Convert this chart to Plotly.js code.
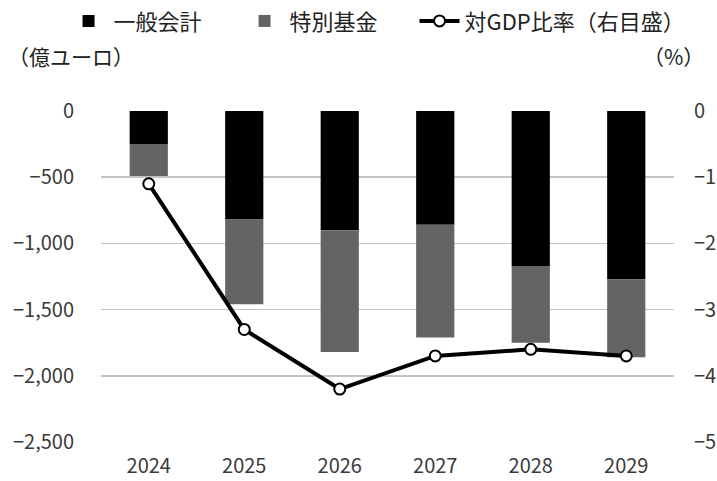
<!DOCTYPE html>
<html>
<head>
<meta charset="utf-8">
<script src="https://cdn.plot.ly/plotly-3.0.1.min.js"></script>
<style>
  html, body { margin: 0; padding: 0; background: #fff; }
  #chart { width: 717px; height: 481px; }
</style>
</head>
<body>
<div id="chart"></div>
<script>
// Fiscal balance by year (100 million euros) and ratio to GDP (%)
const years = ['2024', '2025', '2026', '2027', '2028', '2029'];
const generalAccount = [-250, -820, -900, -860, -1170, -1270];
const specialFund = [-240, -640, -920, -850, -580, -590];
const gdpRatio = [-1.1, -3.3, -4.2, -3.7, -3.6, -3.7];

const leftTicks = [0, -500, -1000, -1500, -2000, -2500];
const rightTicks = [0, -1, -2, -3, -4, -5];

const FONT = '"Noto Sans CJK JP", "Noto Sans", sans-serif';
const TICK_COLOR = '#3a3a3a';

const traces = [
  {
    type: 'bar', name: '一般会計', x: years, y: generalAccount,
    marker: { color: '#000000' }, hoverinfo: 'skip', legendwidth: 121
  },
  {
    type: 'bar', name: '特別基金', x: years, y: specialFund,
    marker: { color: '#646464' }, hoverinfo: 'skip', legendwidth: 120
  },
  {
    type: 'scatter', mode: 'lines+markers', name: '対GDP比率（右目盛）',
    x: years, y: gdpRatio, yaxis: 'y2',
    line: { color: '#000000', width: 4 },
    marker: { size: 11, color: '#ffffff', line: { color: '#000000', width: 2 } },
    hoverinfo: 'skip', legendwidth: 212
  }
];

const layout = {
  width: 717, height: 481,
  margin: { l: 101, r: 43, t: 111, b: 39, autoexpand: false },
  paper_bgcolor: '#ffffff', plot_bgcolor: '#ffffff',
  font: { family: FONT, size: 20, color: TICK_COLOR },
  barmode: 'relative',
  bargap: 0.6,
  showlegend: true,
  legend: {
    orientation: 'h', x: -0.0654, xanchor: 'left', y: 1.335, yanchor: 'top',
    xref: 'paper', yref: 'paper',
    font: { family: FONT, size: 22, color: '#222222' },
    itemwidth: 40, entrywidthmode: 'pixels',
    tracegroupgap: 0, traceorder: 'normal'
  },
  xaxis: {
    type: 'category', showgrid: false, zeroline: false, showline: false,
    ticks: '', ticklabelstandoff: 10,
    tickfont: { family: FONT, size: 20, color: TICK_COLOR }
  },
  yaxis: {
    range: [-2500, 0], tickvals: leftTicks, tickformat: ',d',
    showgrid: true, gridcolor: '#c4c4c4', gridwidth: 1.5,
    zeroline: false, showline: false, ticks: '', ticklabelstandoff: 26,
    tickfont: { family: FONT, size: 20, color: TICK_COLOR }
  },
  yaxis2: {
    overlaying: 'y', side: 'right', range: [-5, 0], tickvals: rightTicks,
    showgrid: false, zeroline: false, showline: false, ticks: '',
    ticklabelstandoff: 19,
    tickfont: { family: FONT, size: 20, color: TICK_COLOR }
  },
  annotations: [
    {
      text: '（億ユーロ）', xref: 'paper', yref: 'paper', x: -0.165, y: 1.165,
      xanchor: 'left', yanchor: 'middle', showarrow: false,
      font: { family: FONT, size: 21, color: '#222222' }
    },
    {
      text: '（%）', xref: 'paper', yref: 'paper', x: 1.055, y: 1.165,
      xanchor: 'right', yanchor: 'middle', showarrow: false,
      font: { family: FONT, size: 21, color: '#222222' }
    }
  ]
};

Plotly.newPlot('chart', traces, layout, { staticPlot: true, displayModeBar: false });
</script>
</body>
</html>
